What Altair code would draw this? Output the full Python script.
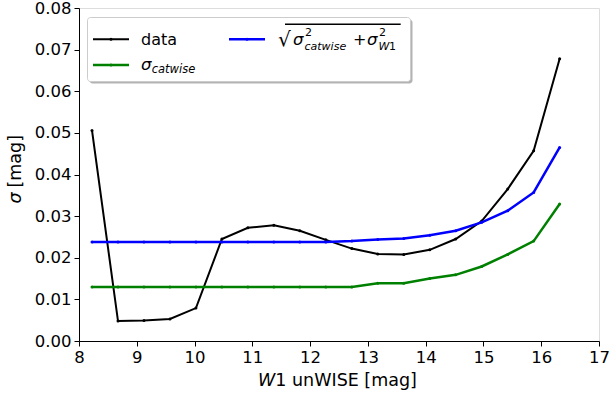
import altair as alt
import pandas as pd

# W1 magnitude bin centres
w1_mag = [8.225, 8.675, 9.124, 9.574, 10.024, 10.473, 10.923, 11.373, 11.822, 12.272,
          12.722, 13.171, 13.621, 14.071, 14.520, 14.970, 15.420, 15.869, 16.319]
# measured scatter
sigma_data = [0.0506, 0.0048, 0.0049, 0.0053, 0.0079, 0.0245, 0.0272, 0.0278, 0.0265, 0.0243,
              0.0222, 0.0209, 0.0208, 0.0219, 0.0245, 0.0288, 0.0365, 0.0457, 0.0678]
# catalogue error
sigma_catwise = [0.0130, 0.0130, 0.0130, 0.0130, 0.0130, 0.0130, 0.0130, 0.0130, 0.0130, 0.0130,
                 0.0130, 0.0139, 0.0139, 0.0150, 0.0159, 0.0179, 0.0208, 0.0240, 0.0329]
# catalogue and W1 errors in quadrature
sigma_total = [0.0238, 0.0238, 0.0238, 0.0238, 0.0238, 0.0238, 0.0238, 0.0238, 0.0238, 0.0238,
               0.0240, 0.0244, 0.0246, 0.0254, 0.0265, 0.0285, 0.0313, 0.0357, 0.0465]

x_ticks = [8, 9, 10, 11, 12, 13, 14, 15, 16, 17]
y_ticks = [0.00, 0.01, 0.02, 0.03, 0.04, 0.05, 0.06, 0.07, 0.08]

FONT = "DejaVu Sans"
W, H = 520, 333

rows = []
for name, vals in (("data", sigma_data), ("catwise", sigma_catwise), ("total", sigma_total)):
    for m, s in zip(w1_mag, vals):
        rows.append({"series": name, "w1": m, "sigma": s})
df = pd.DataFrame(rows)

xscale = alt.Scale(domain=[8, 17], nice=False, zero=False)
yscale = alt.Scale(domain=[0, 0.08], nice=False)

xaxis = alt.Axis(values=x_ticks, format="d", title=None, grid=False, tickSize=5,
                 labelPadding=3, labelFontSize=16.5, labelFont=FONT, labelColor="black",
                 domainColor="black", tickColor="black", labelFlush=False)
yaxis = alt.Axis(values=y_ticks, format=".2f", title=None, grid=False, tickSize=5,
                 labelPadding=3, labelFontSize=16.5, labelFont=FONT, labelColor="black",
                 domainColor="black", tickColor="black", labelFlush=False)


def series_layer(name, color, width):
    return (
        alt.Chart(df)
        .transform_filter(alt.datum.series == name)
        .mark_line(color=color, strokeWidth=width,
                   point=alt.OverlayMarkDef(color=color, size=9, filled=True))
        .encode(x=alt.X("w1:Q", scale=xscale, axis=xaxis),
                y=alt.Y("sigma:Q", scale=yscale, axis=yaxis))
    )


one = pd.DataFrame({"k": [0]})


def txt(s, x, y, size, italic=False, align="left", baseline="alphabetic", angle=0):
    kw = dict(align=align, baseline=baseline, font=FONT, fontSize=size, color="black")
    if italic:
        kw["fontStyle"] = "italic"
    if angle:
        kw["angle"] = angle
    return alt.Chart(one).mark_text(**kw).encode(
        x=alt.value(x), y=alt.value(y), text=alt.value(s))


def hline(x1, x2, y, color, width):
    return alt.Chart(one).mark_rule(color=color, strokeWidth=width).encode(
        x=alt.value(x1), x2=alt.value(x2), y=alt.value(y))


def dot(x, y, color):
    return alt.Chart(one).mark_point(filled=True, color=color, size=9, opacity=1).encode(
        x=alt.value(x), y=alt.value(y))


# legend frame with drop shadow
shadow = alt.Chart(one).mark_rect(fill="#b3b3b3", cornerRadius=3).encode(
    x=alt.value(10.5), x2=alt.value(333.5), y=alt.value(11.5), y2=alt.value(75.5))
frame = alt.Chart(one).mark_rect(fill="white", stroke="#cccccc", strokeWidth=1,
                                 cornerRadius=3).encode(
    x=alt.value(8.5), x2=alt.value(331.5), y=alt.value(9.5), y2=alt.value(73.5))

legend = [
    shadow, frame,
    hline(14, 50, 31.3, "black", 2), dot(32, 31.3, "black"),
    txt("data", 62, 37, 16),
    hline(14, 50, 57, "green", 2.5), dot(32, 57, "green"),
    txt("σ", 62, 62, 16.5, italic=True),
    txt("catwise", 72.7, 64.5, 11.5, italic=True),
    hline(150, 186, 31.3, "blue", 2.5), dot(168, 31.3, "blue"),
    txt("√", 199, 38, 20),
    hline(206, 321.7, 16.3, "black", 1.5),
    txt("σ", 214, 37, 16.5, italic=True),
    txt("2", 226, 28, 11),
    txt("catwise", 225.5, 42, 11, italic=True),
    txt("+", 274, 37, 16),
    txt("σ", 288, 37, 16.5, italic=True),
    txt("2", 300, 28, 11),
    txt("W", 299.5, 42, 11, italic=True),
    txt("1", 310, 42, 11),
]

titles = [
    txt("W", 179, 378, 17.5, italic=True),
    txt("1 unWISE [mag]", 196.3, 378, 17.5),
    txt("σ", -63, 195.5, 17.5, italic=True, baseline="middle", angle=270),
    txt("[mag]", -63, 179.5, 17.5, baseline="middle", angle=270),
]

chart = alt.layer(
    series_layer("data", "black", 2),
    series_layer("catwise", "green", 2.5),
    series_layer("total", "blue", 2.5),
    *legend,
    *titles,
).properties(
    width=W, height=H,
    autosize=alt.AutoSizeParams(type="none"),
    padding={"left": 79, "top": 8, "right": 12, "bottom": 53},
).configure_view(
    stroke="black", strokeWidth=1
).configure(background="white")

chart.save("out.html", embed_options={"renderer": "svg", "actions": False})
